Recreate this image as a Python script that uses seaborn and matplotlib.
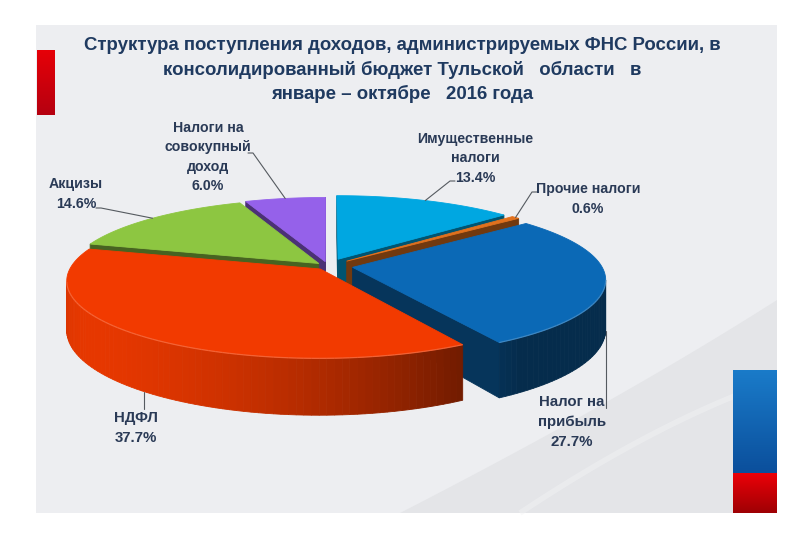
import numpy as np
import matplotlib
matplotlib.use("Agg")
import matplotlib.pyplot as plt
import matplotlib.colors as mcolors
from matplotlib.patches import Polygon, Rectangle
from matplotlib import font_manager
import seaborn as sns

# values (clockwise from 12 o'clock)
categories = ["Имущественные\nналоги", "Прочие налоги", "Налог на\nприбыль",
              "НДФЛ", "Акцизы", "Налоги на\nсовокупный\nдоход"]
shares = [13.4, 0.6, 27.7, 37.7, 14.6, 6.0]

title_lines = ["Структура поступления доходов, администрируемых ФНС России, в",
               "консолидированный бюджет Тульской   области   в",
               "январе – октябре   2016 года"]

# styling
explode = [0.10, 0.10, 0.10, 0.05, 0.05, 0.06]
top_colors = ["#00a7e1", "#e2711d", "#0b69b6", "#f23a00", "#8dc641", "#9561ea"]
label_xy = [(475, 158), (588, 199), (572, 422), (136, 428), (76, 194), (208, 157)]
leader_to = [(450, 181), (532, 192), (None, 408), (None, 409), (101, 208), (253, 153)]
narrow_label = [False, False, True, True, False, False]

sns.set_theme(style="white")
names = {f.name for f in font_manager.fontManager.ttflist}
NARROW = "Liberation Sans Narrow" if "Liberation Sans Narrow" in names else "Liberation Sans"
plt.rcParams["font.family"] = ["Liberation Sans", "DejaVu Sans"]

fig = plt.figure(figsize=(8, 5.33), dpi=100)
fig.patch.set_facecolor("white")
ax = fig.add_axes([0, 0, 1, 1])
ax.axis("off")

# ---- slide background ----
ax.add_patch(Rectangle((36, 25), 741, 488, fc="#edeef1", ec="none", zorder=0))
s = np.linspace(0, 1, 60)
cx1 = (1 - s) ** 2 * 400 + 2 * (1 - s) * s * 620 + s ** 2 * 777
cy1 = (1 - s) ** 2 * 513 + 2 * (1 - s) * s * 400 + s ** 2 * 300
ax.add_patch(Polygon(np.r_[np.c_[cx1, cy1], [[777, 513]]], fc="#e4e5e8", ec="none", zorder=0.5))
cx2 = (1 - s) ** 2 * 520 + 2 * (1 - s) * s * 660 + s ** 2 * 777
cy2 = (1 - s) ** 2 * 513 + 2 * (1 - s) * s * 420 + s ** 2 * 380
ax.plot(cx2, cy2, color="#f2f3f5", lw=4, alpha=0.45, zorder=0.6, solid_capstyle="butt")


def gradient_bar(x0, x1, y0, y1, c_top, c_bot):
    g = np.linspace(0, 1, 64)[:, None, None]
    rgb = (1 - g) * np.array(mcolors.to_rgb(c_top)) + g * np.array(mcolors.to_rgb(c_bot))
    ax.imshow(rgb, extent=(x0, x1, y1, y0), aspect="auto", zorder=1, interpolation="bilinear")


gradient_bar(37, 55, 50, 115, "#e60008", "#b50010")
gradient_bar(733, 777, 370, 473, "#1a7bc9", "#0b4f9c")
gradient_bar(733, 777, 473, 513, "#ec0008", "#9e0004")

# ---- title ----
for line, y in zip(title_lines, [45, 70, 94]):
    ax.text(402, y, line, ha="center", va="center", fontsize=13.4, fontweight="bold",
            color="#1f3a60", family=[NARROW, "DejaVu Sans"], zorder=5)

# ---- pie geometry from matplotlib, drawn as a tilted 3D disc ----
helper = fig.add_axes([0, 0, 0.1, 0.1])
wedges, _ = helper.pie(shares, explode=explode, startangle=90, counterclock=False)
geo = [(np.array(w.center, float), w.r, w.theta1, w.theta2) for w in wedges]
helper.remove()

CX, CY, RX, RY, PERSP, DEPTH = 328.0, 266.0, 249.0, 75.0, 0.15, 48.0
cam = np.array([0.0, -1.0 / PERSP])


def proj(x, y):
    x = np.asarray(x, float)
    y = np.asarray(y, float)
    w = 1 + PERSP * y
    return CX + RX * x / w, CY - RY * y / w, DEPTH / w


def shade(color, f):
    return tuple(np.clip(np.array(mcolors.to_rgb(color)) * f, 0, 1))


sides, tops, rims = [], [], []
for (c, r, t1, t2), col in zip(geo, top_colors):
    t = np.radians(np.linspace(t1, t2, max(4, int(abs(t2 - t1) / 1.5) + 2)))
    px = c[0] + r * np.cos(t)
    py = c[1] + r * np.sin(t)
    X, Y, _ = proj(np.r_[c[0], px], np.r_[c[1], py])
    tops.append((np.c_[X, Y], col))
    rim = []
    for i in range(len(t) - 1):
        tm = 0.5 * (t[i] + t[i + 1])
        n = np.array([np.cos(tm), np.sin(tm)])
        mid = np.array([px[i] + px[i + 1], py[i] + py[i + 1]]) / 2
        if np.dot(cam - mid, n) <= 0:
            continue
        X, Y, D = proj(px[i:i + 2], py[i:i + 2])
        quad = [(X[0], Y[0]), (X[1], Y[1]), (X[1], Y[1] + D[1]), (X[0], Y[0] + D[0])]
        f = 0.42 + 0.53 * max(0.0, np.cos(tm - np.radians(215)))
        sides.append((np.hypot(*(mid - cam)), quad, shade(col, f)))
        rim.append((X, Y))
    rims.append((rim, col))
    for ang, sgn in ((t[0], -1), (t[-1], 1)):
        n = np.array([np.cos(ang + sgn * np.pi / 2), np.sin(ang + sgn * np.pi / 2)])
        ex, ey = c[0] + r * np.cos(ang), c[1] + r * np.sin(ang)
        mid = np.array([(c[0] + ex) / 2, (c[1] + ey) / 2])
        if np.dot(cam - mid, n) <= 0:
            continue
        X, Y, D = proj([c[0], ex], [c[1], ey])
        quad = [(X[0], Y[0]), (X[1], Y[1]), (X[1], Y[1] + D[1]), (X[0], Y[0] + D[0])]
        sides.append((np.hypot(*(mid - cam)), quad, shade(col, 0.5)))

for _, quad, fc in sorted(sides, key=lambda s_: -s_[0]):
    ax.add_patch(Polygon(quad, closed=True, fc=fc, ec=fc, lw=0.6, zorder=2))
for poly, fc in tops:
    ax.add_patch(Polygon(poly, closed=True, fc=fc, ec=fc, lw=0.6, zorder=3))
for rim, col in rims:
    hl = tuple(0.65 * np.array(mcolors.to_rgb(col)) + 0.35)
    for X, Y in rim:
        ax.plot(X, Y, color=hl, lw=0.9, alpha=0.6, zorder=3.5, solid_capstyle="butt")

# ---- labels with leader lines ----
for i, (c, r, t1, t2) in enumerate(geo):
    tm = np.radians(0.5 * (t1 + t2))
    X, Y, D = proj(c[0] + r * np.cos(tm), c[1] + r * np.sin(tm))
    ex, ey = leader_to[i]
    if ex is None:
        ax.plot([X, X], [Y + D, ey], color="#555a60", lw=0.8, zorder=4)
    else:
        tick = 5 if ex > X else -5
        ax.plot([X, ex, ex + tick], [Y, ey, ey], color="#555a60", lw=0.8, zorder=4)
    fam = [NARROW, "DejaVu Sans"] if narrow_label[i] else ["Liberation Sans", "DejaVu Sans"]
    ax.text(label_xy[i][0], label_xy[i][1], f"{categories[i]}\n{shares[i]:.1f}%",
            ha="center", va="center", multialignment="center",
            fontsize=10.8 if narrow_label[i] else 10.2,
            fontweight="bold", color="#2a3a56", family=fam, linespacing=1.5, zorder=5)

ax.set_xlim(0, 800)
ax.set_ylim(533, 0)
fig.savefig("out.png", dpi=100, facecolor="white")
